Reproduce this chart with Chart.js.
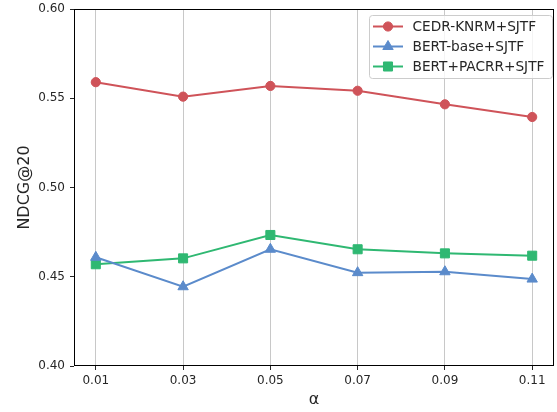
<!DOCTYPE html>
<html>
<head>
<meta charset="utf-8">
<script src="https://cdn.jsdelivr.net/npm/chart.js@4"></script>
<style>
  html, body { margin: 0; padding: 0; background: #fff; }
  #wrap { width: 557px; height: 412px; }
</style>
</head>
<body>
<div id="wrap"><canvas id="ndcg-chart" width="557" height="412"></canvas></div>
<script>
const alphas = ["0.01", "0.03", "0.05", "0.07", "0.09", "0.11"];
const cedrKnrm = [0.5590, 0.5509, 0.5569, 0.5542, 0.5466, 0.5395];
const bertBase = [0.4609, 0.4444, 0.4654, 0.4523, 0.4528, 0.4487];
const bertPacrr = [0.4570, 0.4603, 0.4734, 0.4654, 0.4631, 0.4618];
const yTicks = [0.40, 0.45, 0.50, 0.55, 0.60];

const FONT = "'DejaVu Sans', sans-serif";
const PLOT_RIGHT = 554;
const toPoints = (arr) => arr.map((v, i) => ({ x: i, y: v }));

// chart.js keeps a few px free on the right, push the plot out to the edge
const rightEdge = {
  id: "rightEdge",
  afterLayout(chart) {
    const a = chart.chartArea;
    a.right = PLOT_RIGHT;
    a.width = a.right - a.left;
    const x = chart.scales.x;
    x.right = PLOT_RIGHT;
    x.width = x.right - x.left;
    x.configure();
  },
};

// box round the plot + legend inside top right
const framePlugin = {
  id: "frame",
  afterDraw(chart) {
    const { ctx, chartArea: a } = chart;
    ctx.save();
    ctx.strokeStyle = "#000";
    ctx.lineWidth = 1;
    ctx.strokeRect(a.left + 0.5, a.top + 0.5, a.right - a.left - 1, a.bottom - a.top - 1);

    // legend
    const bx = 369, by = 15, bw = 183, bh = 63;
    ctx.beginPath();
    ctx.roundRect(bx + 0.5, by + 0.5, bw, bh, 3);
    ctx.fillStyle = "rgba(255,255,255,0.8)";
    ctx.fill();
    ctx.strokeStyle = "#cccccc";
    ctx.stroke();

    chart.data.datasets.forEach((ds, i) => {
      const cy = 26.5 + i * 20;
      ctx.strokeStyle = ds.borderColor;
      ctx.lineWidth = 2;
      ctx.beginPath();
      ctx.moveTo(373, cy);
      ctx.lineTo(403, cy);
      ctx.stroke();
      ctx.fillStyle = ds.borderColor;
      ctx.lineWidth = 1;
      Chart.helpers.drawPoint(ctx, {
        pointStyle: ds.pointStyle,
        radius: ds.pointRadius,
        borderWidth: 1,
      }, 388, cy);
      ctx.fillStyle = "#262626";
      ctx.font = "13.7px " + FONT;
      ctx.textBaseline = "middle";
      ctx.textAlign = "left";
      ctx.fillText(ds.label, 412.5, cy + 0.5);
    });
    ctx.restore();
  },
};

const el = document.getElementById("ndcg-chart");

const chartNdcg = new Chart(el, {
  type: "line",
  data: {
    datasets: [
      {
        label: "CEDR-KNRM+SJTF",
        data: toPoints(cedrKnrm),
        borderColor: "#cf5359",
        backgroundColor: "#cf5359",
        pointStyle: "circle",
        pointRadius: 4.6,
      },
      {
        label: "BERT-base+SJTF",
        data: toPoints(bertBase),
        borderColor: "#5b8bcb",
        backgroundColor: "#5b8bcb",
        pointStyle: "triangle",
        pointRadius: 6,
      },
      {
        label: "BERT+PACRR+SJTF",
        data: toPoints(bertPacrr),
        borderColor: "#2fb872",
        backgroundColor: "#2fb872",
        pointStyle: "rect",
        pointRadius: 6.4,
      },
    ],
  },
  options: {
    responsive: false,
    animation: false,
    elements: {
      line: { borderWidth: 2, tension: 0 },
      point: { borderWidth: 1 },
    },
    layout: { padding: { top: 9, right: 3, left: 0, bottom: 0 } },
    plugins: {
      legend: { display: false },
      tooltip: { enabled: false },
    },
    scales: {
      x: {
        type: "linear",
        min: -0.25,
        max: 5.25,
        afterBuildTicks(scale) {
          scale.ticks = alphas.map((_, i) => ({ value: i }));
        },
        afterFit(scale) {
          scale.height = 46;
          scale.paddingLeft = 0;
          scale.paddingRight = 0;
        },
        ticks: {
          callback: (v) => alphas[v],
          color: "#262626",
          font: { family: FONT, size: 12 },
          padding: 4,
          maxRotation: 0,
        },
        grid: {
          color: "#c8c8c8",
          lineWidth: 1,
          tickColor: "#262626",
          tickLength: 4,
        },
        border: { display: false },
        title: {
          display: true,
          text: "α",
          color: "#262626",
          font: { family: FONT, size: 16 },
          padding: { top: 2, bottom: 2.5 },
        },
      },
      y: {
        min: 0.4,
        max: 0.6,
        afterBuildTicks(scale) {
          scale.ticks = yTicks.map((v) => ({ value: v }));
        },
        afterFit(scale) {
          scale.width = 74;
          scale.paddingTop = 0;
          scale.paddingBottom = 0;
        },
        ticks: {
          callback: (v) => v.toFixed(2),
          color: "#262626",
          font: { family: FONT, size: 12 },
          padding: 5,
        },
        grid: {
          drawOnChartArea: false,
          tickColor: "#262626",
          tickLength: 4,
        },
        border: { display: false },
        title: {
          display: true,
          text: "NDCG@20",
          color: "#262626",
          font: { family: FONT, size: 16 },
          padding: { top: 15.5, bottom: 0 },
        },
      },
    },
  },
  plugins: [rightEdge, framePlugin],
});
</script>
</body>
</html>
